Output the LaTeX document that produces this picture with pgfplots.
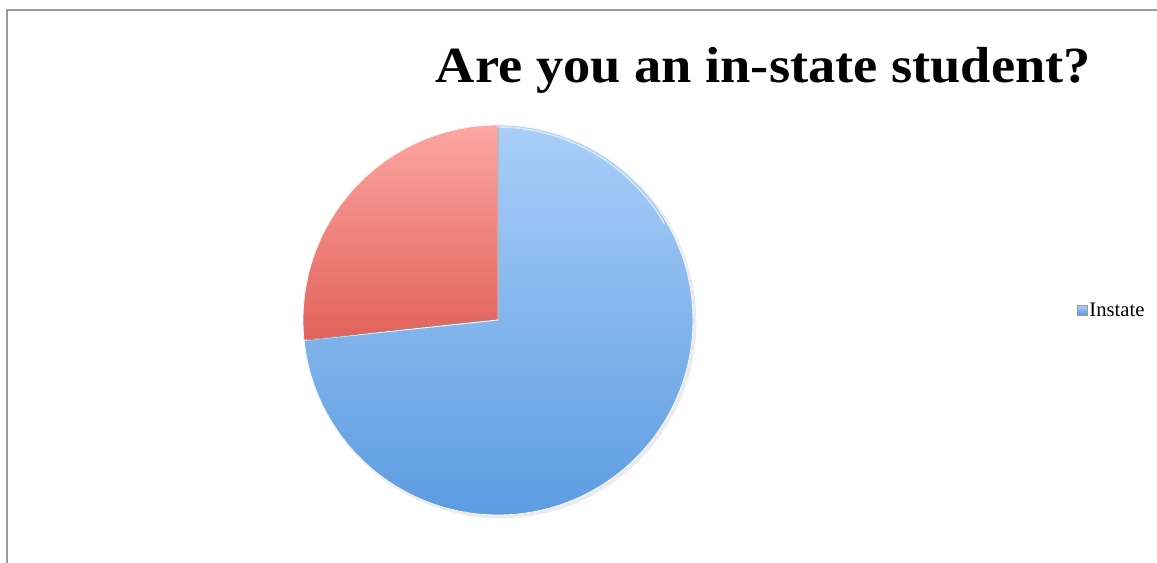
\documentclass[border=0pt]{standalone}
\usepackage{pgfplots}
\pgfplotsset{compat=1.18}
\usepackage{pgfplotstable}
\usepackage{fontspec}
\setmainfont{Liberation Serif}
\definecolor{bluetop}{HTML}{AACEF9}
\definecolor{bluebot}{HTML}{5C9CE1}
\definecolor{redtop}{HTML}{FCA6A2}
\definecolor{redbot}{HTML}{E2625A}
\definecolor{frame}{HTML}{9A9A9A}
\pgfplotstableread{
label value
Instate 22
Out-of-state 8
}\piedata
\begin{document}
\begin{tikzpicture}[x=0.75pt,y=0.75pt]
\useasboundingbox (0,0) rectangle (1157,563);
\draw[frame, line width=1.5pt] (7,0) -- (7,553) -- (1157,553);
\node[anchor=base, font=\bfseries\fontsize{38}{42}\selectfont] at (763.5,480) {\scalebox{1.074}[1]{Are you an in-state student?}};
\pgfplotstablegetelem{0}{value}\of\piedata \let\va\pgfplotsretval
\pgfplotstablegetelem{1}{value}\of\piedata \let\vb\pgfplotsretval
\pgfmathsetmacro{\tot}{\va+\vb}
\pgfmathsetmacro{\angA}{90-360*\va/\tot}
\pgfmathsetmacro{\angB}{90+360*\vb/\tot}
\pgfmathsetmacro{\ex}{0.985*cos(\angB)}
\pgfmathsetmacro{\ey}{0.985*sin(\angB)}
\begin{axis}[
  at={(227.25pt,36pt)}, anchor=south west,
  scale only axis, width=292.5pt, height=292.5pt,
  xmin=-1, xmax=1, ymin=-1, ymax=1,
  hide axis, clip=false,
  legend style={at={(axis cs:2.97,0.05)}, anchor=west, draw=none, fill=none,
    inner sep=0pt, nodes={font=\fontsize{15.5}{17}\selectfont, inner sep=1.5pt},
    legend cell align=left},
]
\addlegendimage{legend image code/.code={\fill[top color=bluetop, bottom color=bluebot, draw=black!40, line width=0.3pt] (0pt,-3.6pt) rectangle (7.2pt,3.6pt);}}
\addlegendentry{Instate}
% shadow
\fill[black!8] (axis cs:0.012,-0.012) circle[radius=147pt];
% Instate slice
\fill[top color=bluetop, bottom color=bluebot, draw=white, line width=0.6pt]
  (axis cs:0,0) -- (axis cs:0,1) arc[start angle=90, end angle=\angA, radius=146.25pt] -- cycle;
% Out-of-state slice
\fill[top color=redtop, bottom color=redbot, draw=white, line width=0.6pt]
  (axis cs:0,0) -- (axis cs:0,1) arc[start angle=90, end angle=\angB, radius=146.25pt] -- cycle;
\draw[black!45, line width=0.5pt] (axis cs:0,0.985) -- (axis cs:0,0.01) -- (axis cs:\ex,\ey);
\draw[white!70!bluetop, line width=1.2pt, opacity=0.8] (axis cs:0.012,0.99) arc[start angle=89, end angle=30, radius=145pt];
\end{axis}
\end{tikzpicture}
\end{document}
